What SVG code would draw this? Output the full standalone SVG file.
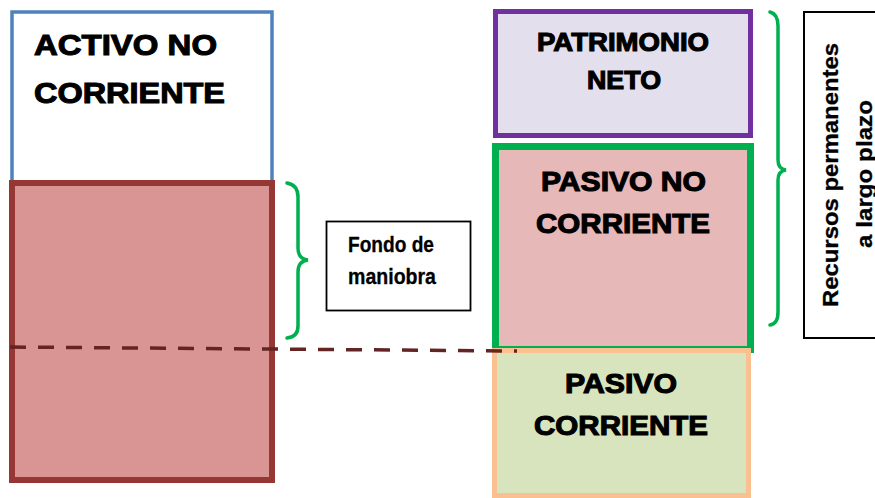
<svg xmlns="http://www.w3.org/2000/svg" width="875" height="498" viewBox="0 0 875 498">
<style>
.big{font-family:"Liberation Sans",Arial,sans-serif;font-weight:bold;fill:#000;stroke:#000;stroke-width:1.1}
.small{font-family:"Liberation Sans",Arial,sans-serif;font-weight:bold;fill:#000;stroke:#000;stroke-width:0.3}
.brace{fill:none;stroke:#00b050;stroke-width:3.5;stroke-linecap:round}
</style>
<rect width="875" height="498" fill="#fff"/>
<g id="activo-no-corriente">
<rect x="12" y="12" width="260" height="175" fill="#fff" stroke="#4f81bd" stroke-width="3.5"/>
<text class="big" x="34" y="55" font-size="30" textLength="183" lengthAdjust="spacingAndGlyphs">ACTIVO NO</text>
<text class="big" x="34" y="103" font-size="30" textLength="191" lengthAdjust="spacingAndGlyphs">CORRIENTE</text>
</g>
<g id="activo-corriente">
<rect x="12" y="183" width="260" height="297" fill="#d99594" stroke="#953735" stroke-width="6"/>
</g>
<g id="patrimonio-neto">
<rect x="495.5" y="11.5" width="255" height="124" fill="#e4dfec" stroke="#7030a0" stroke-width="5"/>
<text class="big" x="623" y="51" font-size="25" text-anchor="middle" textLength="172" lengthAdjust="spacingAndGlyphs">PATRIMONIO</text>
<text class="big" x="624" y="89" font-size="25" text-anchor="middle" textLength="74" lengthAdjust="spacingAndGlyphs">NETO</text>
</g>
<g id="pasivo-no-corriente">
<rect x="495.5" y="146.5" width="255" height="203" fill="#e6b8b7" stroke="#00b050" stroke-width="7"/>
<text class="big" x="623.5" y="191" font-size="27" text-anchor="middle" textLength="165" lengthAdjust="spacingAndGlyphs">PASIVO NO</text>
<text class="big" x="623" y="233" font-size="27" text-anchor="middle" textLength="174" lengthAdjust="spacingAndGlyphs">CORRIENTE</text>
</g>
<g id="pasivo-corriente">
<rect x="494.5" y="350.5" width="254" height="145" fill="#d7e4bd" stroke="#fac090" stroke-width="5"/>
<text class="big" x="621" y="393" font-size="27" text-anchor="middle" textLength="112" lengthAdjust="spacingAndGlyphs">PASIVO</text>
<text class="big" x="621" y="435" font-size="27" text-anchor="middle" textLength="174" lengthAdjust="spacingAndGlyphs">CORRIENTE</text>
</g>
<g id="fondo-de-maniobra">
<rect x="326.5" y="221.5" width="144" height="89" fill="#fff" stroke="#000" stroke-width="1.8"/>
<text class="small" x="348" y="252" font-size="22" textLength="86" lengthAdjust="spacingAndGlyphs">Fondo de</text>
<text class="small" x="348" y="284" font-size="22" textLength="88" lengthAdjust="spacingAndGlyphs">maniobra</text>
</g>
<g id="recursos-permanentes">
<rect x="804" y="12" width="80" height="326" fill="#fff" stroke="#000" stroke-width="2"/>
<text class="small" transform="translate(838,175) rotate(-90)" x="0" y="0" font-size="22" text-anchor="middle" textLength="264" lengthAdjust="spacingAndGlyphs">Recursos permanentes</text>
<text class="small" transform="translate(872,174) rotate(-90)" x="0" y="0" font-size="22" text-anchor="middle" textLength="148" lengthAdjust="spacingAndGlyphs">a largo plazo</text>
</g>
<g id="connectors">
<path class="brace" d="M287,183 Q298,185 298,197 L298,248 Q298,259 308,260 Q298,261 298,272 L298,326 Q298,337 287,338"/>
<path class="brace" d="M770,12 Q778,14 778,26 L778,160 Q778,169 786,170 Q778,171 778,180 L778,312 Q778,324 770,325"/>
<line x1="10" y1="347" x2="517" y2="351" stroke="#632423" stroke-width="3.5" stroke-dasharray="16 12"/>
</g>
</svg>
